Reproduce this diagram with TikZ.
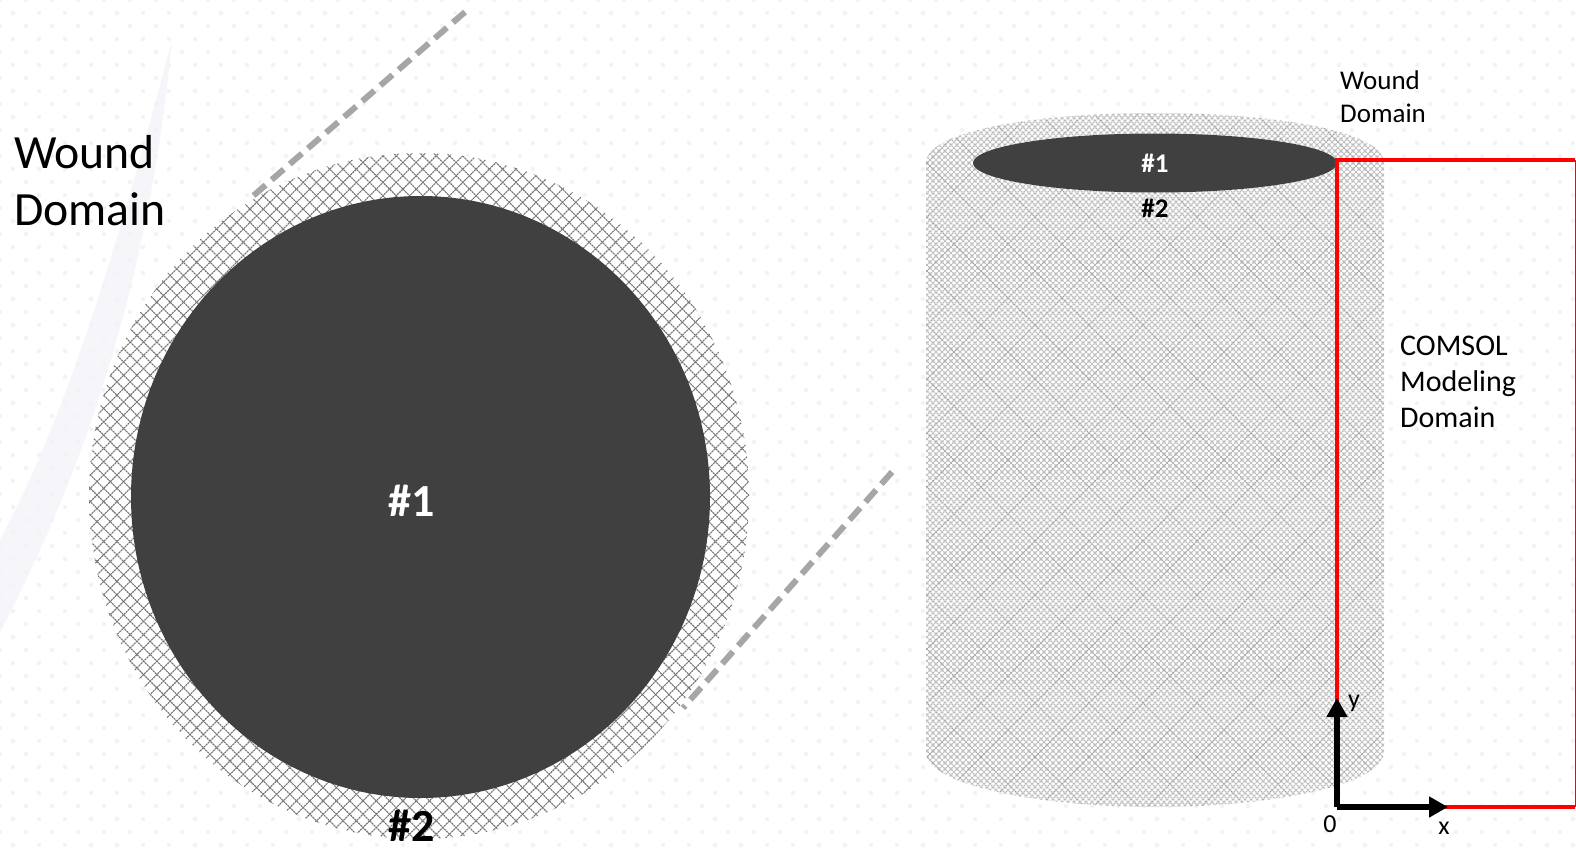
\documentclass[tikz,border=0pt]{standalone}
\usepackage{fontspec}
\setmainfont{Carlito}
\usetikzlibrary{arrows.meta}
\definecolor{bgdot}{HTML}{F3F3F5}
\definecolor{swoosh}{HTML}{F6F6FA}
\definecolor{darkfill}{HTML}{404040}
\definecolor{dashgray}{HTML}{A6A6A6}
\definecolor{coarsehatch}{HTML}{747474}
\definecolor{finehatch}{HTML}{BCBCBC}
\definecolor{finehatchdark}{HTML}{A4A4A4}
\tikzset{
  guideline/.style={draw=dashgray,line width=6pt,dash pattern=on 16pt off 8pt},
  coarseline/.style={draw=coarsehatch,line width=1.1pt,dash pattern=on 2.1pt off 0.7pt},
  fineline/.style={draw=finehatch,line width=1.1pt,dash pattern=on 2pt off 0.8pt},
  fineaccent/.style={draw=finehatchdark,line width=1.1pt,dash pattern=on 2pt off 0.8pt},
  domainline/.style={draw=red,line width=4.5pt},
  axisarrow/.style={draw=black,line width=5.5pt,-{Triangle[length=19pt,width=20pt]}},
  bigtext/.style={font=\fontsize{47.7}{57}\selectfont,align=left,anchor=west,inner sep=0pt},
  midtext/.style={font=\fontsize{30}{36}\selectfont,align=left,anchor=west,inner sep=0pt},
  smalltext/.style={font=\fontsize{27}{33}\selectfont,align=left,anchor=west,inner sep=0pt},
  axistext/.style={font=\fontsize{26}{30}\selectfont,inner sep=0pt},
  hashbig/.style={font=\fontsize{46}{54}\selectfont\bfseries,inner sep=0pt},
  hashsmall/.style={font=\fontsize{27}{32}\selectfont\bfseries,inner sep=0pt}
}
\begin{document}
\begin{tikzpicture}[x=1pt,y=-1pt]
\useasboundingbox (0,0) rectangle (1576,851);
\fill[white] (0,0) rectangle (1576,851);
% background
\fill[swoosh] (172,40) .. controls (150,270) and (90,460) .. (0,632)
  -- (0,540) .. controls (70,410) and (125,220) .. (172,40) -- cycle;
\foreach \r in {0,...,66}{
  \pgfmathsetmacro{\off}{mod(\r,2)*13}
  \foreach \c in {0,...,61}{
    \fill[bgdot] ({\c*26+\off},{\r*13}) circle (2.2pt);
  }
}
% guide lines
\coordinate (g1a) at (465,12);
\coordinate (g1b) at (253,196);
\coordinate (g2a) at (892,472);
\coordinate (g2b) at (683,708);
\draw[guideline] (g1a) -- (g1b);
\draw[guideline] (g2a) -- (g2b);
% left: hatched ring
\fill[white] (419,496) ellipse [x radius=330,y radius=343];
\begin{scope}
\clip (419,496) ellipse [x radius=330,y radius=343];
\foreach \c in {-800,-786.7,...,1600}{
  \draw[coarseline] (\c,130) -- ({\c+730},860);
  \draw[coarseline] (\c,860) -- ({\c+730},130);
}
\end{scope}
\fill[darkfill] (420.5,497) ellipse [x radius=289.5,y radius=301];
\node[hashbig,text=white] (l1) at (412,501) {\#1};
\node[hashbig,text=black] (l2) at (412,826) {\#2};
\node[bigtext] (lwd) at (14,181) {Wound\\Domain};
% right: hatched cylinder
\begin{scope}
\clip (926,163) .. controls (926,130) and (1040,113) .. (1155,113)
  .. controls (1270,113) and (1384,130) .. (1384,163)
  -- (1384,752) .. controls (1384,785) and (1270,807) .. (1155,807)
  .. controls (1040,807) and (926,785) .. (926,752) -- cycle;
\fill[white] (900,100) rectangle (1400,820);
\foreach \i in {-140,...,250}{
  \pgfmathtruncatemacro{\k}{mod(\i+900,9)}
  \pgfmathsetmacro{\c}{\i*6}
  \ifnum\k=0
    \draw[fineaccent] (\c,100) -- ({\c+720},820);
    \draw[fineaccent] (\c,820) -- ({\c+720},100);
  \else
    \draw[fineline] (\c,100) -- ({\c+720},820);
    \draw[fineline] (\c,820) -- ({\c+720},100);
  \fi
}
\end{scope}
\fill[darkfill] (1155,163) ellipse [x radius=182,y radius=29.5];
\node[hashsmall,text=white] (r1) at (1155,163) {\#1};
\node[hashsmall,text=black] (r2) at (1155,208) {\#2};
% modelling domain
\coordinate (o) at (1337,807);
\coordinate (tl) at (1337,160);
\coordinate (tr) at (1575,160);
\coordinate (br) at (1575,807);
\draw[domainline] (o) -- (tl) -- (tr);
\draw[domainline] (o) -- (br);
\draw[red,line width=0.6pt] (tr) -- (br);
\coordinate (ytip) at (1337,698);
\coordinate (xtip) at (1448,807);
\draw[axisarrow] (o) -- (ytip);
\draw[axisarrow] (o) -- (xtip);
\node[axistext] (a0) at (1330,824) {0};
\node[axistext] (ax) at (1444,828) {x};
\node[axistext] (ay) at (1354,703) {y};
\node[smalltext] (rwd) at (1340,97) {Wound\\Domain};
\node[midtext] (cmd) at (1400,382) {COMSOL\\Modeling\\Domain};
\end{tikzpicture}
\end{document}
